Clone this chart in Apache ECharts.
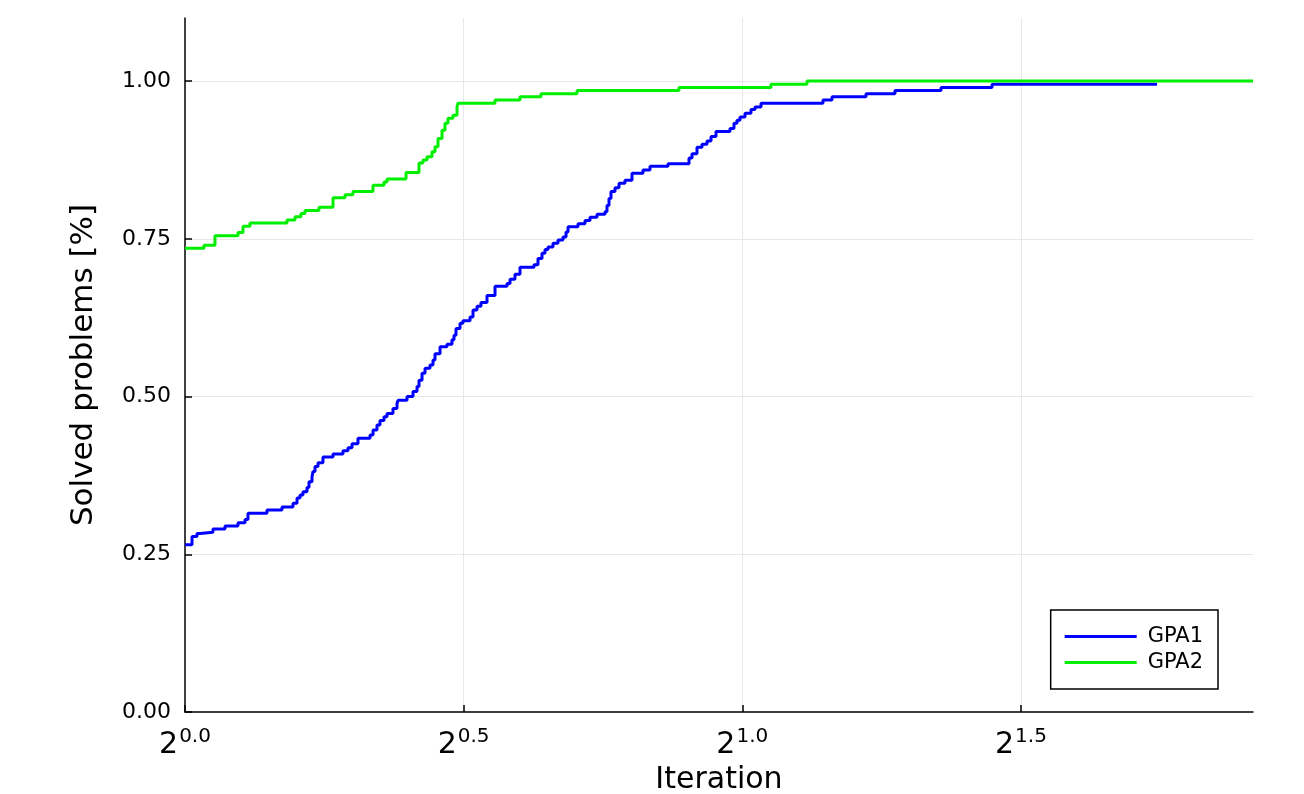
<!DOCTYPE html>
<html>
<head>
<meta charset="utf-8">
<script src="https://cdn.jsdelivr.net/npm/echarts@6/dist/echarts.min.js"></script>
<style>html,body{margin:0;padding:0;background:#fff}#c{width:1304px;height:794px}</style>
</head>
<body>
<div id="c"></div>
<script>
// x values are log2(iteration); y values are fraction of solved problems
const gpa1X = [0.000,0.0126,0.0215,0.0269,0.0502,0.0718,0.0951,0.1077,0.1130,0.1471,0.1741,0.1938,0.2010,0.2064,0.2117,0.2189,0.2225,0.2279,0.2297,0.2333,0.2387,0.2476,0.2656,0.2835,0.2925,0.2997,0.3104,0.3320,0.3374,0.3445,0.3499,0.3571,0.3625,0.3732,0.3804,0.3822,0.3984,0.4091,0.4163,0.4199,0.4253,0.4307,0.4396,0.4450,0.4486,0.4576,0.4701,0.4791,0.4827,0.4863,0.4935,0.4988,0.5114,0.5168,0.5240,0.5311,0.5419,0.5563,0.5778,0.5832,0.5921,0.6011,0.6262,0.6334,0.6406,0.6460,0.6514,0.6603,0.6693,0.6783,0.6837,0.6873,0.7052,0.7178,0.7267,0.7393,0.7536,0.7572,0.7608,0.7644,0.7716,0.7788,0.7895,0.8021,0.8218,0.8344,0.8667,0.9044,0.9098,0.9187,0.9277,0.9367,0.9439,0.9528,0.9779,0.9851,0.9905,0.9959,1.0049,1.0156,1.0228,1.0336,1.1448,1.1610,1.2220,1.2740,1.3566,1.4481,1.7442];
const gpa1Y = [0.265,0.278,0.283,0.285,0.290,0.295,0.300,0.305,0.315,0.320,0.325,0.331,0.339,0.344,0.349,0.356,0.365,0.373,0.381,0.389,0.395,0.404,0.409,0.414,0.419,0.425,0.434,0.439,0.447,0.455,0.462,0.468,0.473,0.481,0.489,0.494,0.500,0.508,0.516,0.526,0.537,0.545,0.550,0.558,0.568,0.579,0.583,0.590,0.597,0.608,0.616,0.620,0.626,0.637,0.643,0.649,0.660,0.675,0.679,0.686,0.694,0.705,0.709,0.719,0.727,0.733,0.737,0.743,0.748,0.753,0.761,0.769,0.774,0.779,0.784,0.789,0.793,0.803,0.814,0.825,0.831,0.838,0.843,0.854,0.859,0.865,0.869,0.878,0.885,0.895,0.900,0.905,0.912,0.920,0.925,0.933,0.938,0.943,0.949,0.955,0.959,0.965,0.970,0.975,0.980,0.985,0.990,0.995,0.995];
const gpa2X = [0.000,0.0341,0.0538,0.0951,0.1041,0.1166,0.1830,0.1974,0.2081,0.2153,0.2404,0.2656,0.2871,0.3015,0.3373,0.3571,0.3625,0.3966,0.4199,0.4271,0.4343,0.4432,0.4486,0.4540,0.4612,0.4665,0.4719,0.4809,0.4881,0.4899,0.5563,0.6011,0.6388,0.7034,0.8864,1.0515,1.1161,1.9164];
const gpa2Y = [0.735,0.740,0.755,0.760,0.770,0.775,0.780,0.785,0.790,0.795,0.800,0.815,0.820,0.825,0.835,0.840,0.845,0.855,0.870,0.875,0.880,0.888,0.896,0.909,0.922,0.933,0.941,0.946,0.959,0.965,0.970,0.975,0.980,0.985,0.990,0.995,1.000,1.000];
const xTicks = [0, 0.5, 1.0, 1.5];
const yTicks = [0, 0.25, 0.5, 0.75, 1.0];
const seriesNames = ['GPA1', 'GPA2'];
const seriesColors = ['#0000ff', '#00ee00'];

const zip = (xs, ys) => xs.map((x, i) => [x, ys[i]]);
const FONT = 'DejaVu Sans';
const chart = echarts.init(document.getElementById('c'), null, {renderer: 'canvas'});
chart.setOption({
  animation: false,
  backgroundColor: '#fff',
  grid: {left: 185, right: 51, top: 18, bottom: 82, containLabel: false, outerBoundsMode: 'none'},
  legend: {
    orient: 'vertical',
    right: 86, top: 610,
    backgroundColor: '#fff',
    borderColor: '#000', borderWidth: 1.5, borderRadius: 0,
    padding: [16, 15, 16, 14],
    itemWidth: 72, itemHeight: 3, itemGap: 5,
    icon: 'rect',
    textStyle: {fontFamily: FONT, fontSize: 21, color: '#000', padding: [0, 0, 0, 6], lineHeight: 21},
    data: seriesNames
  },
  xAxis: {
    type: 'value', min: 0, max: 1.9164, interval: 0.5,
    name: 'Iteration', nameLocation: 'middle', nameGap: 52,
    nameTextStyle: {fontFamily: FONT, fontSize: 30, color: '#000'},
    axisLine: {show: true, onZero: false, lineStyle: {color: '#000', width: 1.5}},
    axisTick: {show: true, inside: true, length: 7, customValues: xTicks, lineStyle: {color: '#000', width: 1.5}},
    axisLabel: {
      customValues: xTicks, margin: 15,
      formatter: v => '{b|2}{s|' + v.toFixed(1) + '}',
      rich: {
        b: {fontFamily: FONT, fontSize: 30, color: '#000'},
        s: {fontFamily: FONT, fontSize: 20, color: '#000', padding: [0, 0, 16, 1]}
      }
    },
    splitLine: {show: true, showMinLine: false, lineStyle: {color: '#e8e8e8', width: 1}}
  },
  yAxis: {
    type: 'value', min: 0, max: 1.1, interval: 0.25,
    name: 'Solved problems [%]', nameLocation: 'middle', nameGap: 86, nameRotate: 90,
    nameTextStyle: {fontFamily: FONT, fontSize: 31, color: '#000'},
    axisLine: {show: true, onZero: false, lineStyle: {color: '#000', width: 1.5}},
    axisTick: {show: true, inside: true, length: 7, customValues: yTicks, lineStyle: {color: '#000', width: 1.5}},
    axisLabel: {
      customValues: yTicks, margin: 14,
      fontFamily: FONT, fontSize: 22, color: '#000',
      formatter: v => v.toFixed(2)
    },
    splitLine: {show: true, showMinLine: false, lineStyle: {color: '#e8e8e8', width: 1}}
  },
  series: [
    {name: seriesNames[0], type: 'line', step: 'end', showSymbol: false, data: zip(gpa1X, gpa1Y),
     color: seriesColors[0], lineStyle: {width: 3, color: seriesColors[0]}},
    {name: seriesNames[1], type: 'line', step: 'end', showSymbol: false, data: zip(gpa2X, gpa2Y),
     color: seriesColors[1], lineStyle: {width: 3, color: seriesColors[1]}}
  ]
});
</script>
</body>
</html>
